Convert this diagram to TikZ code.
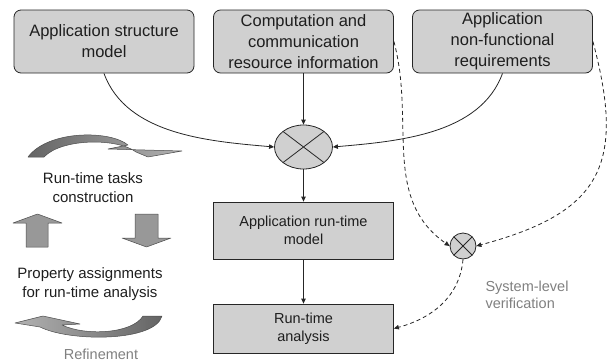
\documentclass[tikz,border=0pt]{standalone}
\usepackage{fontspec}
\setmainfont{Liberation Sans}
\usetikzlibrary{arrows.meta,shapes.geometric}
\definecolor{boxfill}{RGB}{208,208,208}
\definecolor{blockarrow}{RGB}{152,152,152}
\definecolor{darkarc}{RGB}{100,100,100}
\definecolor{lightarc}{RGB}{178,178,178}
\definecolor{notegray}{RGB}{128,128,128}
\definecolor{textdark}{RGB}{30,30,30}

\begin{document}
\begin{tikzpicture}[x=1pt, y=1pt]
        \tikzstyle{inputbox} = [draw=black!85, line width=0.8pt, fill=boxfill, rounded corners=7pt,
            minimum width=180pt, minimum height=63pt, inner sep=0pt, align=center, text=textdark,
            font=\fontsize{16.5}{21}\selectfont]
        \tikzstyle{stagebox} = [draw=black!85, line width=0.8pt, fill=boxfill,
            minimum width=180pt, inner sep=0pt, align=center, text=textdark,
            font=\fontsize{14.5}{18}\selectfont]
        \tikzstyle{mixer} = [draw=black!85, line width=0.8pt, fill=boxfill, ellipse, inner sep=0pt,
            path picture={\draw[line width=0.8pt, black!85]
                (path picture bounding box.north west) -- (path picture bounding box.south east)
                (path picture bounding box.south west) -- (path picture bounding box.north east);}]
        \tikzstyle{caption} = [align=center, text=textdark, font=\fontsize{15}{19}\selectfont]
        \tikzstyle{note} = [text=notegray, font=\fontsize{14.5}{17}\selectfont]
        \tikzstyle{flow} = [-{Triangle[length=5pt, width=4.5pt]}, line width=0.8pt, black!85]
        \tikzstyle{check flow} = [flow, dash pattern=on 4pt off 3pt]
        \tikzstyle{fat arrow} = [draw=black!70, line width=0.5pt, line join=round]

        \useasboundingbox (0,0) rectangle (611,-362);

        \node[inputbox] (structure) at (104,-41.5) {Application structure\\model};
        \node[inputbox] (resources) at (303.5,-41.5) {Computation and\\communication\\resource information};
        \node[inputbox] (requirements) at (502.5,-41.5) {Application\\non-functional\\requirements};

        \node[mixer, minimum width=58pt, minimum height=44pt] (mix) at (303.5,-147) {};
        \node[mixer, minimum width=26pt, minimum height=26pt] (check) at (463,-246) {};

        \node[stagebox, minimum height=57pt] (runmodel) at (303.5,-230.5) {Application run-time\\model};
        \node[stagebox, minimum height=49pt] (analysis) at (303.5,-328.5) {Run-time\\analysis};

        \node[caption] (tasks) at (93,-187.5) {Run-time tasks\\construction};
        \node[caption] (assign) at (90,-284) {Property assignments\\for run-time analysis};
        \node[note] (refine) at (101,-354) {Refinement};
        \node[note, align=left, anchor=west] (verify) at (482,-295) {System-level\\verification};

        \draw[flow] (structure.south) to[out=-70, in=175, looseness=0.9] (mix.west);
        \draw[flow] (requirements.south) to[out=-110, in=5, looseness=0.9] (mix.east);
        \draw[flow] (resources.south) -- (mix.north);
        \draw[flow] (mix.south) -- (runmodel.north);
        \draw[flow] (runmodel.south) -- (analysis.north);

        \draw[check flow] (resources.east) to[out=-75, in=145] (check.west);
        \draw[check flow] (requirements.east) to[out=-75, in=15, looseness=1.4] (check.east);
        \draw[check flow] (check.south) to[out=-95, in=15] (analysis.east);

        \draw[fat arrow, left color=darkarc, right color=lightarc]
            (28,-157) .. controls (48,-130) and (110,-130) .. (128,-145)
            -- (108,-149) -- (182,-151) -- (148,-157) -- (136,-152)
            .. controls (118,-138) and (62,-138) .. (44,-157) -- cycle;
        \draw[fat arrow, fill=blockarrow]
            (37.5,-214) -- (62,-223) -- (48,-223) -- (48,-247)
            -- (26,-247) -- (26,-223) -- (13,-223) -- cycle;
        \draw[fat arrow, fill=blockarrow]
            (135,-214) -- (158,-214) -- (158,-238) -- (171,-238)
            -- (146.5,-247) -- (122,-238) -- (135,-238) -- cycle;
        \draw[fat arrow, left color=lightarc, right color=darkarc]
            (15,-323) -- (43,-316) -- (80,-324) -- (62,-325)
            .. controls (85,-336) and (132,-334) .. (143,-316) -- (162,-316)
            .. controls (155,-342) and (70,-342) .. (40,-327) -- cycle;
    \end{tikzpicture}
\end{document}
